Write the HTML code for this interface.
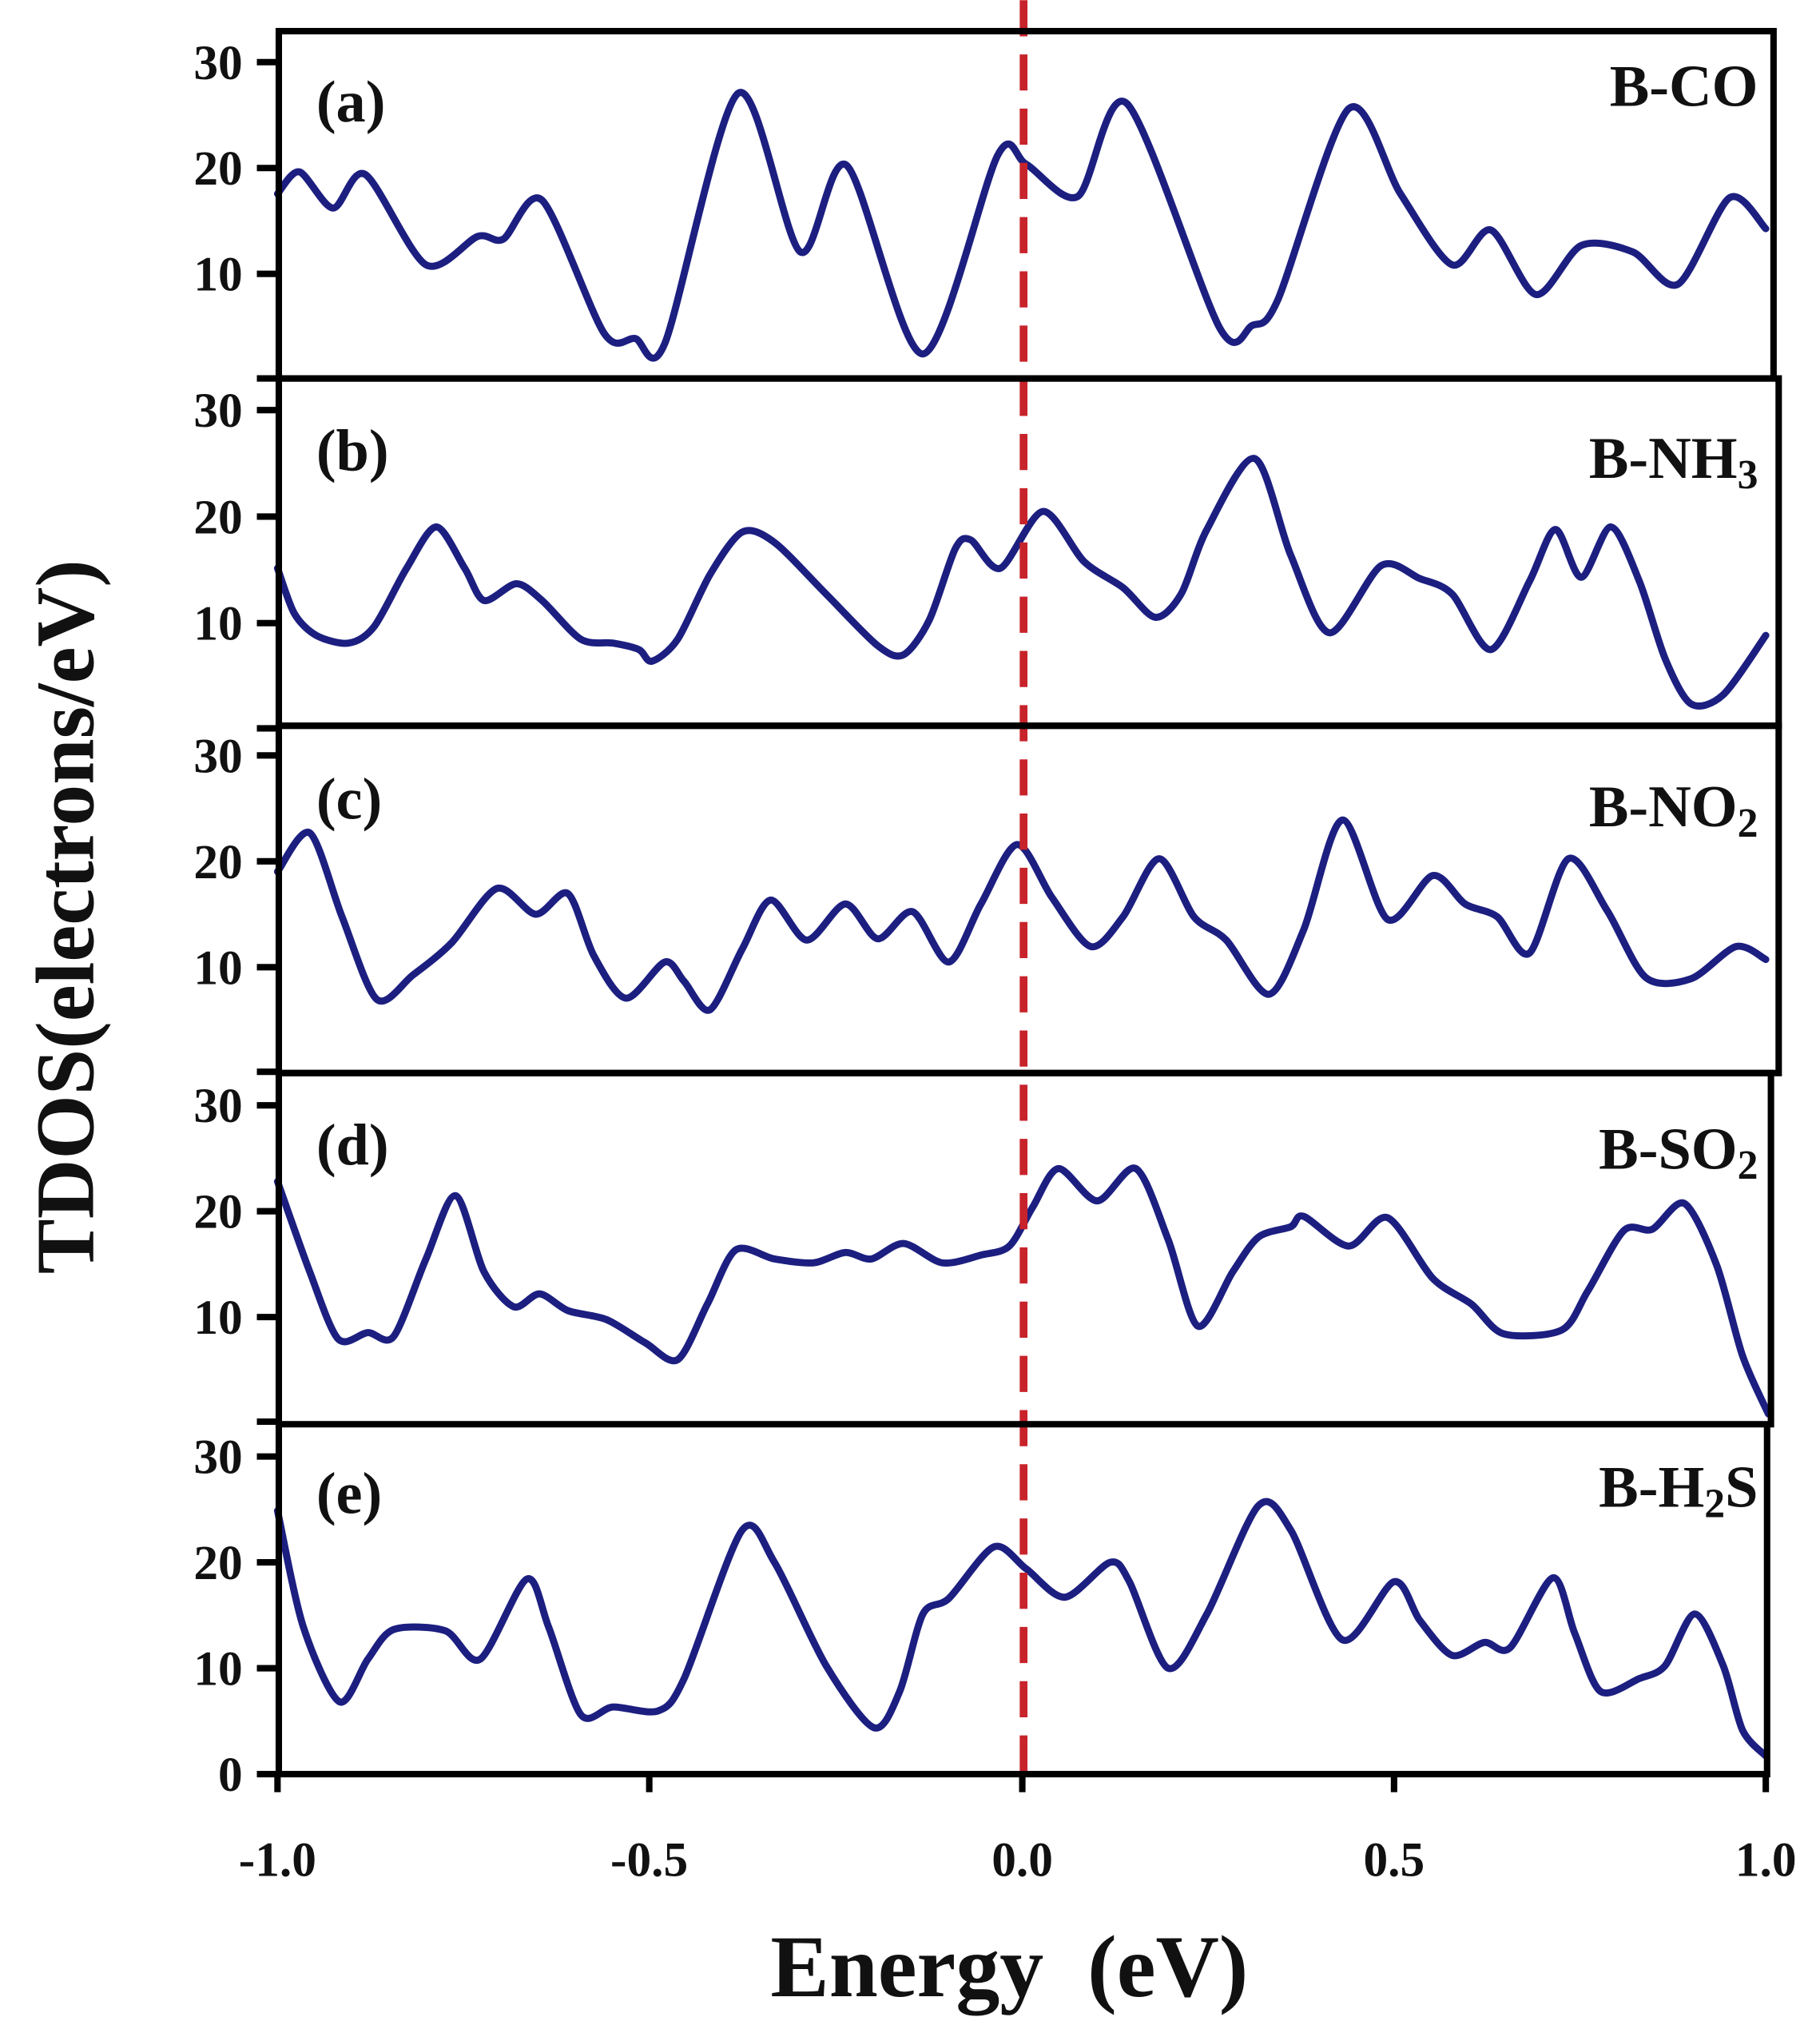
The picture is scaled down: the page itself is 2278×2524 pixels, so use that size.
<!DOCTYPE html>
<html><head><meta charset="utf-8"><style>
html,body{margin:0;padding:0;background:#fff}
svg{display:block}
text{font-family:"Liberation Serif",serif;font-weight:bold;fill:#111}
</style></head><body>
<svg id="s" width="2278" height="2524" viewBox="0 0 1410 1562" xmlns="http://www.w3.org/2000/svg">
<g id="curves" fill="none" stroke="#1c1f80" stroke-width="5.5" stroke-linejoin="round" stroke-linecap="round"></g>
<line x1="793" y1="0" x2="793" y2="1374" stroke="#c8232b" stroke-width="6" stroke-dasharray="28,14"/>
<g fill="none" stroke="#000" stroke-width="5">
<rect x="216" y="24" width="1158" height="269"/>
<rect x="216" y="293" width="1162" height="269"/>
<rect x="216" y="562" width="1162" height="269"/>
<rect x="216" y="831" width="1156" height="272"/>
<path d="M216 1103 V1374 H1369 V1103"/>
</g>
<g stroke="#000" stroke-width="5" id="ticks"></g>
<g font-size="38" text-anchor="end" id="ylab"></g>
<g font-size="38" text-anchor="middle">
<text x="215" y="1453">-1.0</text><text x="503" y="1453">-0.5</text><text x="792" y="1453">0.0</text><text x="1080" y="1453">0.5</text><text x="1368" y="1453">1.0</text>
</g>
<g font-size="46">
<text x="245" y="94">(a)</text><text x="245" y="364">(b)</text><text x="245" y="634">(c)</text><text x="245" y="902">(d)</text><text x="245" y="1172">(e)</text>
</g>
<g font-size="46" text-anchor="end">
<text x="1362" y="82">B-CO</text>
<text x="1362" y="370">B-NH<tspan font-size="32" dy="8">3</tspan></text>
<text x="1362" y="640">B-NO<tspan font-size="32" dy="8">2</tspan></text>
<text x="1362" y="905">B-SO<tspan font-size="32" dy="8">2</tspan></text>
<text x="1362" y="1167">B-H<tspan font-size="32" dy="8">2</tspan><tspan dy="-8">S</tspan></text>
</g>
<text x="782" y="1546" font-size="68" text-anchor="middle" xml:space="preserve">Energy  (eV)</text>
<text transform="translate(72,710) rotate(-90)" font-size="64" text-anchor="middle">TDOS(electrons/eV)</text>
</svg>
<script>
var P=[
[[215,150],[232,133],[258,161],[283,135],[330,205],[370,183],[390,185],[420,155],[468,258],[492,262],[515,266],[572,72],[620,195],[656,128],[715,274],[773,120],[795,127],[835,152],[873,80],[945,254],[970,252],[990,232],[1045,84],[1085,150],[1125,205],[1155,178],[1190,228],[1225,190],[1265,195],[1300,220],[1340,153],[1368,177]],
[[215,440],[228,475],[245,492],[270,498],[290,485],[315,440],[338,408],[360,440],[375,465],[400,452],[420,465],[450,495],[475,498],[495,503],[505,512],[525,495],[550,445],[575,412],[600,420],[640,460],[680,500],[700,507],[720,480],[740,425],[752,418],[775,440],[808,396],[840,435],[870,455],[895,478],[915,460],[935,410],[972,355],[1000,430],[1030,490],[1070,438],[1100,448],[1125,460],[1155,503],[1185,450],[1205,410],[1225,447],[1248,408],[1270,450],[1290,510],[1310,545],[1335,538],[1368,492]],
[[215,675],[240,645],[265,710],[292,774],[320,755],[350,730],[385,688],[415,708],[440,692],[460,740],[485,773],[515,745],[530,760],[550,782],[575,735],[597,697],[625,728],[655,700],[680,727],[707,706],[735,745],[760,700],[788,654],[815,695],[845,733],[870,710],[898,665],[925,710],[950,728],[983,770],[1010,720],[1040,635],[1075,712],[1110,678],[1135,700],[1160,710],[1185,738],[1215,665],[1245,705],[1275,757],[1310,758],[1345,733],[1368,743]],
[[215,915],[240,985],[262,1037],[285,1032],[305,1035],[330,975],[353,926],[375,985],[398,1012],[418,1002],[440,1015],[470,1022],[500,1040],[525,1053],[548,1010],[570,968],[600,975],[630,978],[655,970],[675,975],[700,963],[730,978],[760,972],[782,965],[800,935],[820,905],[850,930],[880,905],[905,960],[928,1027],[955,985],[975,958],[1000,950],[1010,942],[1045,965],[1075,943],[1110,990],[1140,1010],[1165,1033],[1210,1030],[1230,1000],[1258,953],[1280,952],[1305,932],[1330,980],[1350,1050],[1370,1095]],
[[215,1170],[235,1260],[263,1318],[285,1285],[305,1262],[345,1263],[372,1285],[408,1223],[425,1260],[450,1328],[475,1322],[510,1325],[530,1300],[575,1185],[600,1210],[640,1290],[677,1338],[697,1310],[715,1250],[735,1238],[770,1198],[795,1215],[825,1237],[860,1210],[875,1225],[905,1292],[935,1250],[975,1166],[1000,1185],[1040,1270],[1080,1225],[1100,1255],[1125,1282],[1150,1272],[1170,1276],[1203,1222],[1220,1265],[1240,1310],[1270,1300],[1290,1290],[1313,1250],[1335,1290],[1350,1340],[1368,1360]]
];
var NS="http://www.w3.org/2000/svg";
function path(p){var d="M"+p[0][0]+" "+p[0][1];for(var i=0;i<p.length-1;i++){var a=p[i-1]||p[i],b=p[i],c=p[i+1],e=p[i+2]||c;
var k=7;var c1x=b[0]+(c[0]-a[0])/k,c1y=b[1]+(c[1]-a[1])/k,c2x=c[0]-(e[0]-b[0])/k,c2y=c[1]-(e[1]-b[1])/k;
d+=" C"+c1x.toFixed(1)+" "+c1y.toFixed(1)+" "+c2x.toFixed(1)+" "+c2y.toFixed(1)+" "+c[0]+" "+c[1];}return d;}
var g=document.getElementById("curves");
P.forEach(function(p){var e=document.createElementNS(NS,"path");e.setAttribute("d",path(p));g.appendChild(e);});
var T=document.getElementById("ticks"),L=document.getElementById("ylab");
var panels=[[294,82],[565,82.5],[831,82],[1102,82],[1374,82]];
panels.forEach(function(q,k){for(var v=(k==4?0:10);v<=30;v+=10){var y=q[0]-v*q[1]/10;
var l=document.createElementNS(NS,"line");l.setAttribute("x1",199);l.setAttribute("x2",216);l.setAttribute("y1",y);l.setAttribute("y2",y);T.appendChild(l);
var t=document.createElementNS(NS,"text");t.setAttribute("x",188);t.setAttribute("y",y+13);t.textContent=v;L.appendChild(t);}
if(k<4){var l2=document.createElementNS(NS,"line");l2.setAttribute("x1",199);l2.setAttribute("x2",216);l2.setAttribute("y1",q[0]-1);l2.setAttribute("y2",q[0]-1);T.appendChild(l2);}});
[215,503,792,1080,1368].forEach(function(x){var l=document.createElementNS(NS,"line");l.setAttribute("x1",x);l.setAttribute("x2",x);l.setAttribute("y1",1374);l.setAttribute("y2",1388);T.appendChild(l);});
</script>
</body></html>
